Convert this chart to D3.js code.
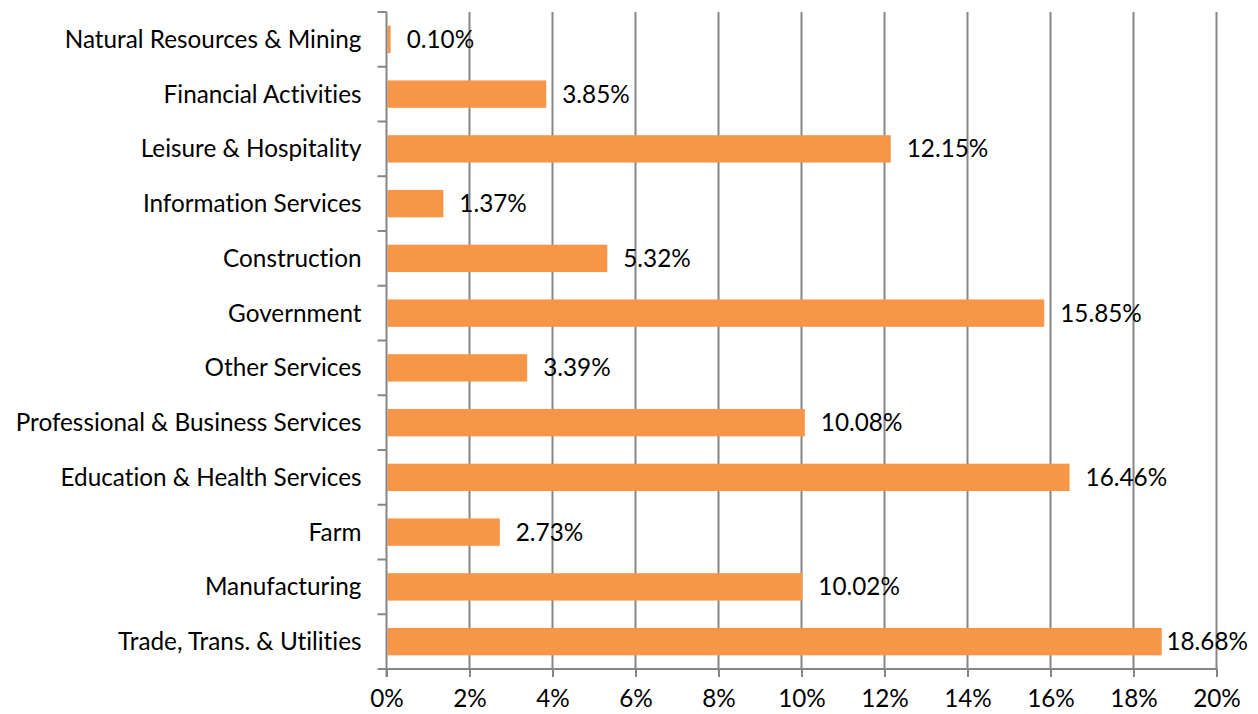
<!DOCTYPE html>
<html><head><meta charset="utf-8">
<script src="https://cdn.jsdelivr.net/npm/d3@7"></script>
<style>body{margin:0;background:#fff}svg{display:block}text{font-family:Lato,"Open Sans",sans-serif;fill:#000;font-variant-ligatures:none;font-feature-settings:"liga" 0}</style>
</head><body><svg id="c" width="1258" height="714"></svg>
<script>
const categories = ["Natural Resources & Mining","Financial Activities","Leisure & Hospitality","Information Services","Construction","Government","Other Services","Professional & Business Services","Education & Health Services","Farm","Manufacturing","Trade, Trans. & Utilities"];
const values = [0.10,3.85,12.15,1.37,5.32,15.85,3.39,10.08,16.46,2.73,10.02,18.68];
const xTicks = [0,2,4,6,8,10,12,14,16,18,20];

const W=1258,H=714, L=386.5, R=1216.5, T=12, B=669;
const svg=d3.select("#c");
const x=d3.scaleLinear().domain([0,20]).range([L,R]);
const y=d3.scaleBand().domain(categories).range([T,B]).paddingInner(0.5).paddingOuter(0.25);
const grid="#868686", fs=24.3;

// gridlines
svg.append("g").selectAll("line").data(xTicks.filter(d=>d>0)).join("line")
  .attr("x1",d=>x(d)).attr("x2",d=>x(d)).attr("y1",T).attr("y2",B)
  .attr("stroke",grid).attr("stroke-width",2);

// bars
svg.append("g").selectAll("rect").data(values).join("rect")
  .attr("x",x(0)+1).attr("y",(d,i)=>y(categories[i]))
  .attr("width",d=>Math.max(0,x(d)-x(0)-1)).attr("height",y.bandwidth())
  .attr("fill","#F79646");

// bottom axis
const xa=d3.axisBottom(x).tickValues(xTicks).tickFormat(d=>d+"%").tickSize(8).tickPadding(13);
const gx=svg.append("g").attr("transform",`translate(0,${B})`).call(xa);
gx.select(".domain").attr("stroke",grid).attr("stroke-width",2).attr("d",`M${L},0H${R}`);
gx.selectAll(".tick line").attr("stroke",grid).attr("stroke-width",2);
gx.selectAll(".tick text").attr("font-size",fs).attr("font-family","Lato").attr("fill","#000");

// left axis
const boundaries=d3.range(categories.length+1).map(i=>T+i*(B-T)/categories.length);
svg.append("line").attr("x1",L).attr("x2",L).attr("y1",T).attr("y2",B+8).attr("stroke",grid).attr("stroke-width",2);
svg.append("g").selectAll("line").data(boundaries).join("line")
  .attr("x1",L-9).attr("x2",L).attr("y1",d=>d).attr("y2",d=>d).attr("stroke",grid).attr("stroke-width",2);
svg.append("g").selectAll("text").data(categories).join("text")
  .attr("x",L-25).attr("y",d=>y(d)+y.bandwidth()/2).attr("dy","0.35em")
  .attr("text-anchor","end").attr("font-size",fs).text(d=>d);

// value labels
svg.append("g").selectAll("text").data(values).join("text")
  .attr("y",(d,i)=>y(categories[i])+y.bandwidth()/2).attr("dy","0.35em")
  .attr("font-size",fs).text(d=>d.toFixed(2)+"%")
  .each(function(d){const w=this.getComputedTextLength();this.setAttribute("x",Math.min(x(d)+16,W-10-w));});
</script></body></html>
